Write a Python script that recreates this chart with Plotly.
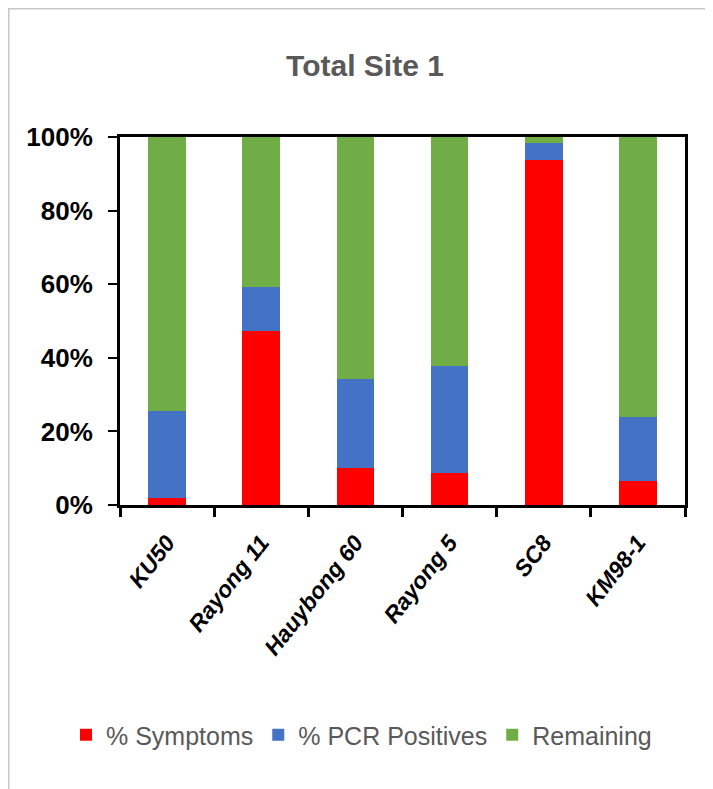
import plotly.graph_objects as go

categories = ["KU50", "Rayong 11", "Hauybong 60", "Rayong 5", "SC8", "KM98-1"]
symptoms = [1.8, 47.3, 10.0, 8.6, 93.8, 6.5]
pcr_positives = [23.7, 11.9, 24.2, 29.3, 4.6, 17.5]
remaining = [74.5, 40.8, 65.8, 62.1, 1.6, 76.0]
y_ticks = [0, 20, 40, 60, 80, 100]

FONT = "Liberation Sans, Arial, sans-serif"

fig = go.Figure()
fig.add_bar(x=categories, y=symptoms, name="% Symptoms", marker_color="#FF0000",
            marker_line_width=0)
fig.add_bar(x=categories, y=pcr_positives, name="% PCR Positives", marker_color="#4472C4",
            marker_line_width=0)
fig.add_bar(x=categories, y=remaining, name="Remaining", marker_color="#70AD47",
            marker_line_width=0)

# figure coordinates (page coords minus 8px body margin)
W, H = 705, 781
L, R, T, B = 112, 677, 129, 497
pw, ph = R - L, B - T

def px(x):
    return (x - L) / pw

def py(y):
    return (B - y) / ph

fig.update_layout(
    width=W, height=H,
    margin=dict(l=L, r=W - R, t=T, b=H - B),
    barmode="stack",
    bargap=0.6,
    plot_bgcolor="white",
    paper_bgcolor="white",
    font=dict(family=FONT),
    title=dict(text="<b>Total Site 1</b>", font=dict(size=30, color="#595959", family=FONT),
               x=357 / W, xref="container", xanchor="center",
               y=1 - 57 / H, yref="container", yanchor="middle"),
    showlegend=True,
    legend=dict(orientation="h", x=px(58), xanchor="left",
                y=py(727), yanchor="middle",
                font=dict(size=25, color="#595959", family=FONT),
                traceorder="normal", itemwidth=30, tracegroupgap=0),
    xaxis=dict(
        showline=True, linecolor="black", linewidth=3, mirror=True,
        ticks="outside", ticklen=9, tickwidth=3, tickcolor="black",
        tickson="boundaries", tickangle=-52, ticklabelstandoff=12,
        tickfont=dict(size=23, color="black", family=FONT, weight="bold", style="italic"),
        showgrid=False,
    ),
    yaxis=dict(
        range=[0, 100], tickvals=y_ticks, ticktext=[f"{v}%" for v in y_ticks],
        showline=True, linecolor="black", linewidth=3, mirror=True,
        ticks="outside", ticklen=9, tickwidth=2, tickcolor="black",
        ticklabelstandoff=10,
        tickfont=dict(size=26, color="black", family=FONT, weight="bold"),
        showgrid=False, zeroline=False,
    ),
    shapes=[dict(type="rect", xref="paper", yref="paper",
                 x0=px(0.75), x1=px(W + 10), y0=py(H + 10), y1=py(0.75),
                 line=dict(color="#C8C8C8", width=1.5), layer="below")],
)

fig.write_html("out.html")
